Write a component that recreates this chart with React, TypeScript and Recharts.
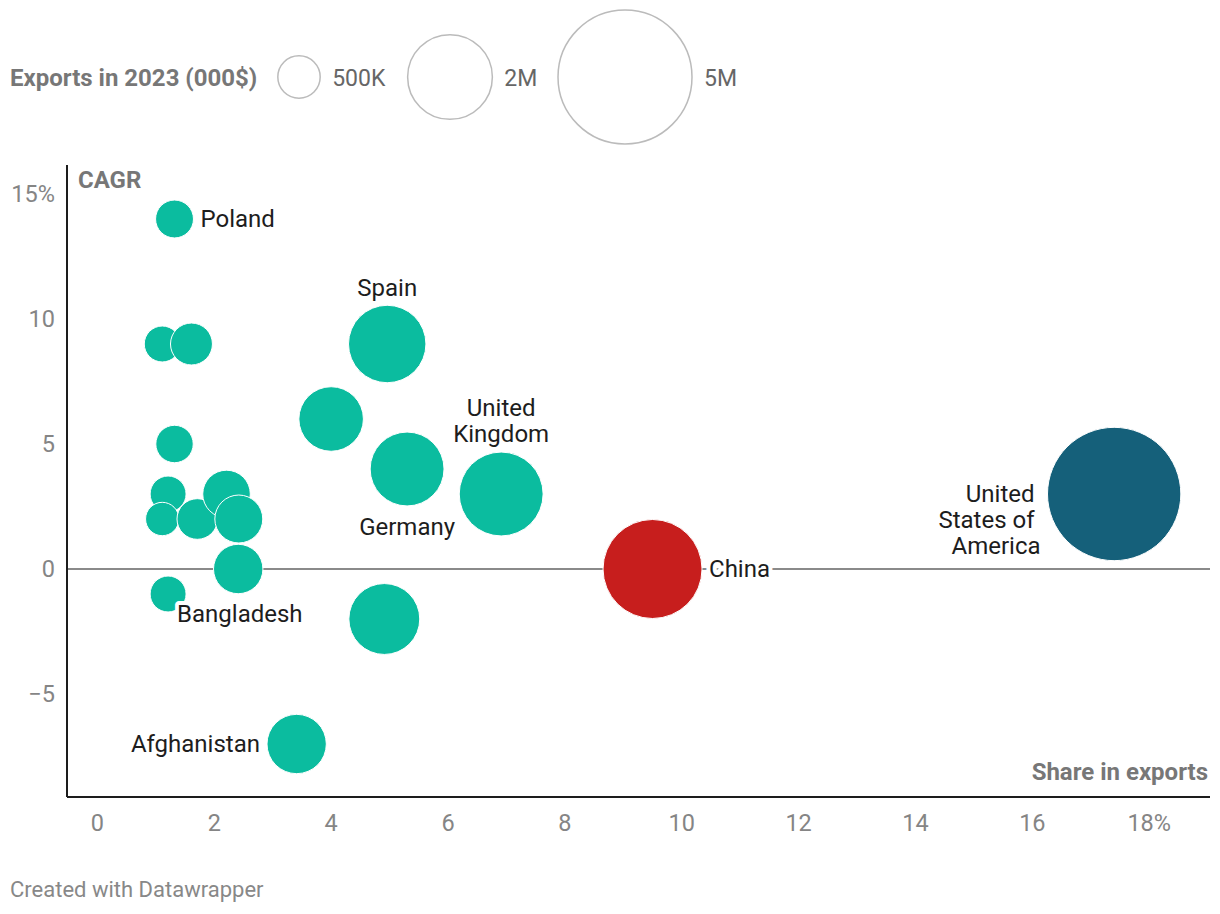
import React from 'react';
import {
  ScatterChart,
  Scatter,
  XAxis,
  YAxis,
  ZAxis,
  ReferenceLine,
} from 'recharts';

// bubble data: share in exports (%), CAGR (%), exports in 2023 (000$)
const countries = [
  'Poland', '', '', '', '', '', '', '', '', '',
  'Bangladesh', 'Afghanistan', '', 'Spain', 'Germany', 'United Kingdom', '', 'China',
  'United States of America',
];
const shares = [1.32, 1.11, 1.61, 1.32, 1.21, 1.11, 1.71, 2.21, 2.42, 2.41, 1.21, 3.41, 4.0, 4.96, 5.3, 6.91, 4.91, 9.5, 17.4];
const cagr = [14, 9, 9, 5, 3, 2, 2, 3, 2, 0, -1, -7, 6, 9, 4, 3, -2, 0, 3];
const exportsK = [
  400000, 360000, 490000, 390000, 360000, 310000, 460000, 630000, 640000, 680000,
  360000, 980000, 1160000, 1670000, 1520000, 1960000, 1400000, 2730000, 4950000,
];

const xTicks = [0, 2, 4, 6, 8, 10, 12, 14, 16, 18];
const yTicks = [-5, 0, 5, 10, 15];
const legendValues = [500000, 2000000, 5000000];
const legendLabels = ['500K', '2M', '5M'];

const TEAL = '#0bbc9f';
const colorFor: Record<string, string> = {
  China: '#c71e1d',
  'United States of America': '#15607a',
};

// where each label sits relative to its bubble
const labelPlacement: Record<string, { side: string; lines: string[] }> = {
  Poland: { side: 'right', lines: ['Poland'] },
  Bangladesh: { side: 'bottomRight', lines: ['Bangladesh'] },
  Afghanistan: { side: 'left', lines: ['Afghanistan'] },
  Spain: { side: 'top', lines: ['Spain'] },
  Germany: { side: 'bottom', lines: ['Germany'] },
  'United Kingdom': { side: 'top', lines: ['United', 'Kingdom'] },
  China: { side: 'right', lines: ['China'] },
  'United States of America': { side: 'leftDown', lines: ['United ', 'States of ', 'America'] },
};

const data = shares.map((s, i) => ({
  name: countries[i],
  share: s,
  cagr: cagr[i],
  exports: exportsK[i],
}));

const MAX_R = 67;
const Z_MAX = 5000000;
const FONT = 'Roboto, "Noto Sans", sans-serif';

const Bubble = (props: any) => {
  const { cx, cy, size, payload } = props;
  const r = Math.sqrt(size / Math.PI);
  return (
    <circle
      cx={cx}
      cy={cy}
      r={r}
      fill={colorFor[payload.name] || TEAL}
      stroke="#fff"
      strokeWidth={1}
    />
  );
};

const LINE_H = 26;

const BubbleLabel = (props: any) => {
  const { cx, cy, size, payload } = props;
  const place = labelPlacement[payload.name];
  if (!place) return <g />;
  const r = Math.sqrt(size / Math.PI);
  const n = place.lines.length;
  let x = cx;
  let y0 = cy;
  let anchor: 'start' | 'middle' | 'end' = 'middle';
  if (place.side === 'right') {
    x = cx + r + 7;
    anchor = 'start';
    y0 = cy - ((n - 1) * LINE_H) / 2;
  } else if (place.side === 'left') {
    x = cx - r - 7;
    anchor = 'end';
    y0 = cy - ((n - 1) * LINE_H) / 2;
  } else if (place.side === 'leftDown') {
    x = cx - r - 7;
    anchor = 'end';
    y0 = cy;
  } else if (place.side === 'top') {
    y0 = cy - r - 18 - (n - 1) * LINE_H;
  } else if (place.side === 'bottom') {
    y0 = cy + r + 21;
  } else if (place.side === 'bottomRight') {
    x = cx + r * 0.5;
    anchor = 'start';
    y0 = cy + r + 2;
  }
  return (
    <text
      x={x}
      y={y0}
      textAnchor={anchor}
      fontFamily={FONT}
      fontSize={24}
      fill="#1d1d1d"
      stroke="#fff"
      strokeWidth={8}
      strokeLinejoin="round"
      paintOrder="stroke"
      style={{ whiteSpace: 'pre' }}
    >
      {place.lines.map((l, i) => (
        <tspan key={i} x={x} y={y0 + i * LINE_H} dy="0.35em">
          {l}
        </tspan>
      ))}
    </text>
  );
};

const fmtX = (v: number) => (v === 18 ? '18%' : String(v));
const fmtY = (v: number) => (v === 15 ? '15%' : v < 0 ? `\u2212${Math.abs(v)}` : String(v));

export default function App() {
  const legendCenters = [299, 450, 625];
  return (
    <div
      style={{
        position: 'absolute',
        left: 0,
        top: 0,
        width: 1220,
        height: 914,
        background: '#fff',
        fontFamily: FONT,
      }}
    >
      {/* size legend */}
      <svg width={1220} height={160} style={{ position: 'absolute', left: 0, top: 0 }}>
        <text x={10} y={78} dy="0.35em" fontFamily={FONT} fontSize={24} fontWeight={700} fill="#777">
          Exports in 2023 (000$)
        </text>
        {legendValues.map((v, i) => {
          const r = MAX_R * Math.sqrt(v / Z_MAX);
          return (
            <g key={v}>
              <circle cx={legendCenters[i]} cy={77} r={r} fill="none" stroke="#bbb" strokeWidth={1.5} />
              <text
                x={legendCenters[i] + r + 12}
                y={78}
                dy="0.35em"
                fontFamily={FONT}
                fontSize={23}
                fill="#666"
              >
                {legendLabels[i]}
              </text>
            </g>
          );
        })}
      </svg>

      <div style={{ position: 'absolute', left: 0, top: 0 }}>
        <ScatterChart width={1220} height={860} margin={{ top: 165, right: 10, bottom: 13, left: 7 }}>
          <XAxis
            type="number"
            dataKey="share"
            domain={[-0.52, 19.04]}
            allowDataOverflow
            ticks={xTicks}
            tickFormatter={fmtX}
            tickLine={false}
            tickSize={0}
            tickMargin={17}
            axisLine={{ stroke: '#1d1d1d', strokeWidth: 2 }}
            tick={{ fill: '#858585', fontSize: 23.5, fontFamily: FONT }}
            height={50}
          />
          <YAxis
            type="number"
            dataKey="cagr"
            domain={[-9.12, 16.16]}
            allowDataOverflow
            ticks={yTicks}
            tickFormatter={fmtY}
            tickLine={false}
            tickSize={0}
            tickMargin={12}
            axisLine={{ stroke: '#1d1d1d', strokeWidth: 2 }}
            tick={{ fill: '#858585', fontSize: 23.5, fontFamily: FONT }}
            width={60}
          />
          <ZAxis type="number" dataKey="exports" domain={[0, Z_MAX]} range={[0, Math.PI * MAX_R * MAX_R]} />
          <ReferenceLine y={0} stroke="#8a8a8a" strokeWidth={2} />
          <Scatter data={data} shape={<Bubble />} isAnimationActive={false} />
          <Scatter data={data} shape={<BubbleLabel />} isAnimationActive={false} />
        </ScatterChart>
      </div>

      <div
        style={{
          position: 'absolute',
          left: 78,
          top: 165,
          fontSize: 24,
          fontWeight: 700,
          color: '#777',
          lineHeight: '30px',
        }}
      >
        CAGR
      </div>
      <div
        style={{
          position: 'absolute',
          right: 12,
          top: 757,
          fontSize: 24,
          fontWeight: 700,
          color: '#777',
          lineHeight: '30px',
        }}
      >
        Share in exports
      </div>
      <div
        style={{
          position: 'absolute',
          left: 10,
          top: 875,
          fontSize: 22,
          color: '#888',
          lineHeight: '30px',
        }}
      >
        Created with Datawrapper
      </div>
    </div>
  );
}
